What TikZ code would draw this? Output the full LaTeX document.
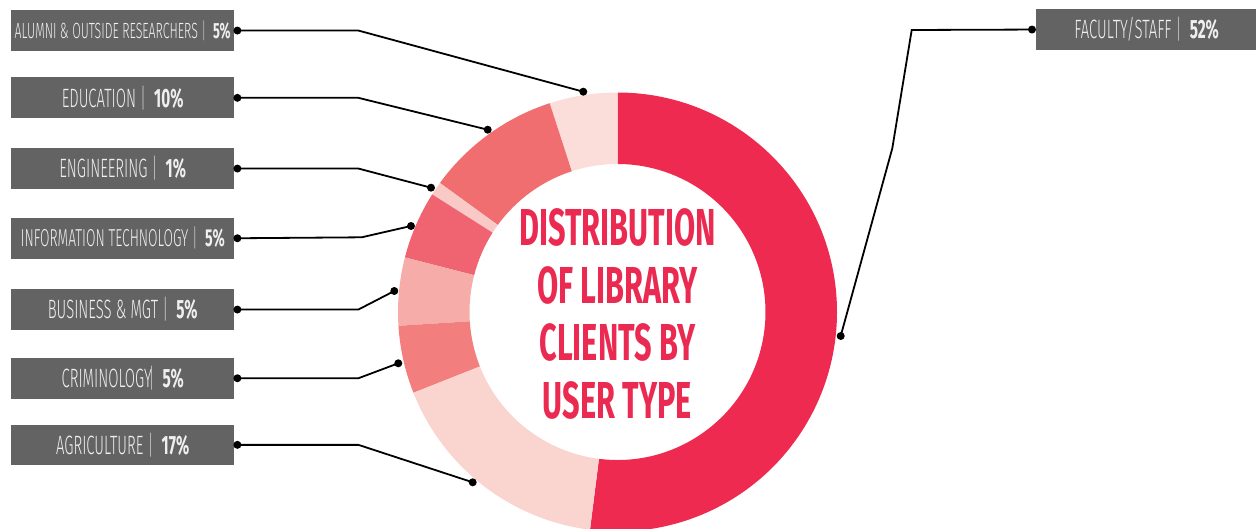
\documentclass[tikz,border=0pt]{standalone}
\usepackage{fontspec}
\newfontfamily\lblfont[FakeStretch=0.56]{Fira Sans Light}
\newfontfamily\lblbold[FakeStretch=0.58]{Fira Sans Bold}
\newfontfamily\ttlfont[FakeStretch=0.59]{Fira Sans Bold}
\definecolor{cfac}{HTML}{EE2A51}
\definecolor{calu}{HTML}{FBDED9}
\definecolor{cedu}{HTML}{F16E70}
\definecolor{ceng}{HTML}{F9C9C5}
\definecolor{cit}{HTML}{EF6470}
\definecolor{cbus}{HTML}{F6ADA9}
\definecolor{ccri}{HTML}{F37E7E}
\definecolor{cagr}{HTML}{FAD5D0}
\definecolor{cbox}{HTML}{636363}
\definecolor{ctxt}{HTML}{EFEFEF}
\definecolor{cbar}{HTML}{C8C8C8}
\definecolor{cttl}{HTML}{EB2A51}
\newcommand\seg[3]{\fill[#3] (#1:219.5) arc[start angle=#1,end angle=#2,radius=219.5] -- (#2:148) arc[start angle=#2,end angle=#1,radius=148] -- cycle;}
\newcommand\lbl[2]{{\lblfont #1 {\color{cbar}|}} {\lblbold #2}}
\tikzset{
  labelbox/.style={fill=cbox, text=ctxt, minimum width=223, minimum height=40.7, inner sep=0pt, font=\fontsize{26.5}{28}\selectfont, anchor=north west},
  conn/.style={line width=1.8pt, black},
  dotmark/.style={fill=black},
}
\begin{document}
\begin{tikzpicture}[x=1pt,y=-1pt]
\useasboundingbox (0,0) rectangle (1256,529);
% donut
\begin{scope}[shift={(617.5,312)}, yscale=-1]
\seg{90}{-97.2}{cfac}
\seg{90}{108}{calu}
\seg{108}{144}{cedu}
\seg{144}{147.6}{ceng}
\seg{147.6}{165.6}{cit}
\seg{165.6}{183.6}{cbus}
\seg{183.6}{201.6}{ccri}
\seg{201.6}{262.8}{cagr}
\end{scope}
\node[text=cttl, align=center, font=\ttlfont\fontsize{52}{57.5}\selectfont] (title) at (617.5,314) {DISTRIBUTION\\OF LIBRARY\\CLIENTS BY\\USER TYPE};
% label boxes
\node[labelbox, font=\fontsize{22}{24}\selectfont] (alu) at (11,10) {\lbl{ALUMNI \& OUTSIDE RESEARCHERS}{5\%}};
\node[labelbox] (edu) at (11,77.3) {\lbl{EDUCATION}{10\%}};
\node[labelbox] (eng) at (11,148) {\lbl{ENGINEERING}{1\%}};
\node[labelbox, font=\fontsize{24.5}{26}\selectfont] (it) at (11,217.7) {\lbl{INFORMATION TECHNOLOGY}{5\%}};
\node[labelbox] (bus) at (11,289) {\lbl{BUSINESS \& MGT}{5\%}};
\node[labelbox] (cri) at (11,357.7) {{\lblfont CRIMINOLOGY\kern-0.12em{\color{cbar}|}} {\lblbold 5\%}};
\node[labelbox] (agr) at (11,424.3) {\lbl{AGRICULTURE}{17\%}};
\node[labelbox, minimum width=221] (fac) at (1036,9) {\lbl{FACULTY/STAFF}{52\%}};
% connector end points
\coordinate (aluL) at ([xshift=3]alu.east);
\coordinate (eduL) at ([xshift=3]edu.east);
\coordinate (engL) at ([xshift=3]eng.east);
\coordinate (itL) at ([xshift=3]it.east);
\coordinate (busL) at ([xshift=3]bus.east);
\coordinate (criL) at ([xshift=3]cri.east);
\coordinate (agrL) at ([xshift=3]agr.east);
\coordinate (facL) at ([xshift=-4]fac.west);
\coordinate (aluE) at (583.3,91.7);
\coordinate (eduE) at (487.7,129.7);
\coordinate (engE) at (431,187.7);
\coordinate (itE) at (411,226);
\coordinate (busE) at (394.3,291);
\coordinate (criE) at (398.3,363.3);
\coordinate (agrE) at (472.7,482.3);
\coordinate (facE) at (840.7,336);
\draw[conn] (aluL) -- ++(121,0) -- (aluE);
\draw[conn] (eduL) -- ++(121,0) -- (eduE);
\draw[conn] (engL) -- ++(121,0) -- (engE);
\draw[conn] (itL) -- (361.7,237.3) -- (itE);
\draw[conn] (busL) -- ++(121,0) -- (busE);
\draw[conn] (criL) -- ++(121,0) -- (criE);
\draw[conn] (agrL) -- ++(121,0) -- (agrE);
\draw[conn] (facL) -- (911.7,30) -- (892.3,148.3) -- (facE);
\foreach \p in {aluL,eduL,engL,itL,busL,criL,agrL,facL,aluE,eduE,engE,itE,busE,criE,agrE,facE}
  \fill[dotmark] (\p) circle (4);
\end{tikzpicture}
\end{document}
